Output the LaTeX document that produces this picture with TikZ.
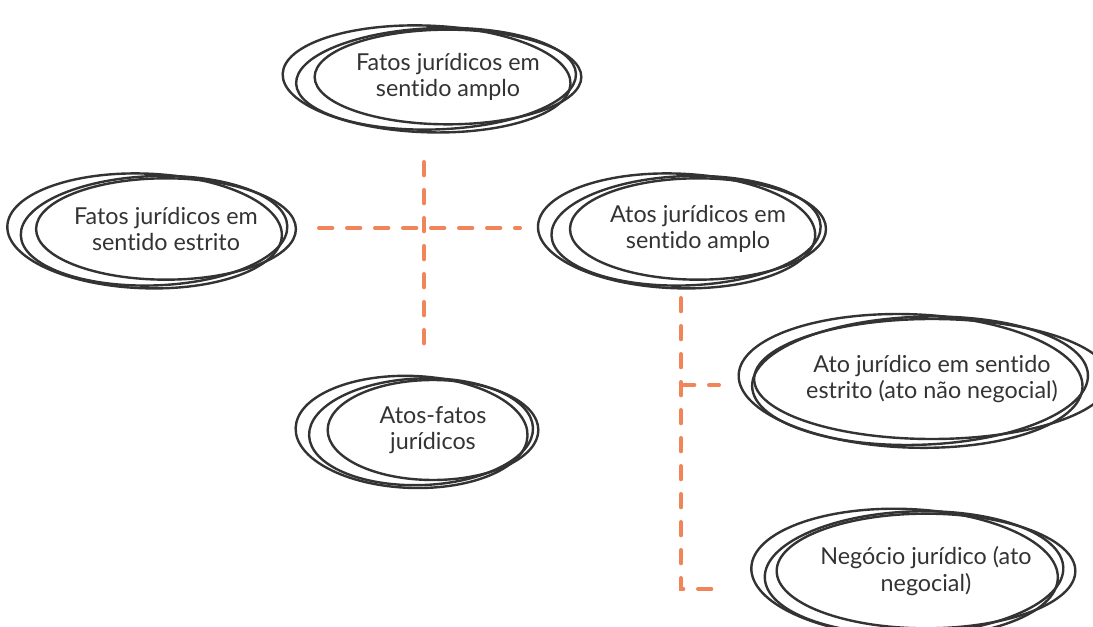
\documentclass[tikz,border=0pt]{standalone}
\usepackage{fontspec}
\setmainfont{Lato}[Ligatures=NoCommon]
\usepackage{tikz}
\usetikzlibrary{shapes.geometric}
\definecolor{ink}{RGB}{51,51,51}
\definecolor{peach}{RGB}{240,133,90}
% two extra loose strokes round a bubble
\newcommand{\sketchy}[3]{%
	\draw[sketch,rotate around={2:(#1.center)}] ([xshift=-9pt,yshift=-1pt]#1.center) ellipse [x radius=#2+5pt,y radius=#3+3pt];
	\draw[sketch,rotate around={-2:(#1.center)}] ([xshift=-16pt,yshift=-2pt]#1.center) ellipse [x radius=#2+8pt,y radius=#3+5pt];
}

\begin{document}
\begin{tikzpicture}[x=0.75pt,y=-0.75pt,
	sketch/.style={draw=ink,line width=1.8pt},
	bubble/.style={ellipse,draw=ink,line width=1.8pt,inner sep=0pt,align=center,text=ink,font=\fontsize{17.5}{20}\selectfont},
	link/.style={draw=peach,line width=3pt,line cap=round,dash pattern=on 10pt off 11pt}]
	\useasboundingbox (0,0) rectangle (1093,627);
	
	\node[bubble,minimum width=200pt,minimum height=71pt] (amplo) at (448,77) {Fatos jurídicos em\\sentido amplo};
	\node[bubble,minimum width=190pt,minimum height=76pt] (estrito) at (166,229) {Fatos jurídicos em\\sentido estrito};
	\node[bubble,minimum width=192pt,minimum height=76pt] (atos) at (698,229) {Atos jurídicos em\\sentido amplo};
	\node[bubble,minimum width=158pt,minimum height=75pt] (atosfatos) at (433,430) {Atos-fatos\\jurídicos};
	\node[bubble,minimum width=242pt,minimum height=90pt] (naoneg) at (932,379) {Ato jurídico em sentido\\estrito (ato não negocial)};
	\node[bubble,minimum width=215pt,minimum height=86pt] (negocio) at (926,571) {Negócio jurídico (ato\\negocial)};
	
	\sketchy{amplo}{100pt}{35pt}
	\sketchy{estrito}{95pt}{38pt}
	\sketchy{atos}{96pt}{38pt}
	\sketchy{atosfatos}{79pt}{37pt}
	\sketchy{naoneg}{121pt}{45pt}
	\sketchy{negocio}{107pt}{43pt}
	
	\coordinate (top) at (424,162);
	\coordinate (bottom) at (424,354);
	\coordinate (left) at (319,228);
	\coordinate (right) at (520,228);
	\coordinate (trunk) at (681,298);
	\coordinate (knee) at (681,589);
	
	\draw[link] (top) -- (bottom);
	\draw[link] (left) -- (right);
	\draw[link] (trunk) -- (knee) -- ++(38,0);
	\draw[link] (681,385) -- ++(38,0);
\end{tikzpicture}
\end{document}
